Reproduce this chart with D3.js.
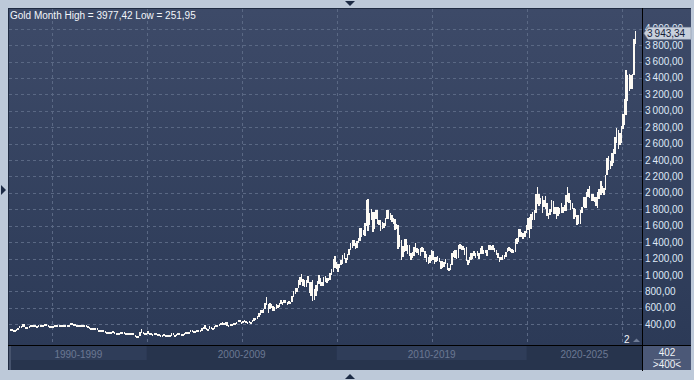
<!DOCTYPE html>
<html><head><meta charset="utf-8">
<script src="https://cdn.jsdelivr.net/npm/d3@7"></script>
<style>html,body{margin:0;padding:0;background:#bdc9d9;}svg{display:block;}</style>
</head><body>
<svg id="c" width="694" height="380"></svg>
<script>
// ---- DATA ----
const titleText = "Gold Month High = 3977,42 Low = 251,95";
const startYear = 1992, startMonth = 4; // May 1992
const highs = [
 341,346,360,344,352,347,338,338,
 333,334,338,360,379,381,409,406,369,372,377,392,
 396,387,393,383,389,394,390,388,399,398,391,383,
 381,380,395,396,392,392,390,389,387,390,389,389,
 411,416,405,399,395,391,387,391,388,386,386,375,
 368,353,356,349,350,349,335,331,335,336,314,300,
 306,302,303,315,307,299,299,292,300,302,300,297,
 293,291,294,290,290,266,263,260,300,338,302,292,
 292,313,295,290,284,292,292,280,278,275,272,276,
 273,270,269,267,294,290,271,281,294,294,281,280,
 289,304,303,310,327,330,323,315,328,324,325,350,
 370,388,353,341,373,369,359,377,391,394,400,417,
 430,419,428,428,396,399,409,415,420,432,456,456,
 429,436,446,438,433,442,432,448,477,480,497,541,
 570,573,585,655,730,650,665,652,621,605,651,640,
 656,690,672,697,691,672,683,677,745,800,842,836,
 935,976,1011,948,937,944,988,914,912,937,828,880,
 931,1006,965,920,980,989,960,966,1024,1072,1195,1227,
 1161,1139,1135,1180,1249,1265,1211,1250,1312,1388,1424,1432,
 1388,1412,1447,1575,1577,1553,1632,1913,1921,1756,1803,1764,
 1764,1791,1793,1676,1667,1641,1630,1692,1790,1796,1754,1726,
 1696,1685,1617,1615,1488,1424,1348,1434,1434,1361,1361,1267,
 1280,1345,1392,1331,1315,1332,1345,1323,1287,1255,1218,1239,
 1307,1296,1223,1225,1232,1205,1175,1170,1157,1191,1142,1088,
 1131,1263,1287,1303,1303,1362,1375,1366,1352,1327,1337,1180,
 1220,1264,1262,1295,1271,1296,1272,1331,1358,1306,1299,1307,
 1366,1362,1356,1366,1326,1309,1267,1221,1215,1243,1239,1286,
 1326,1347,1325,1311,1306,1439,1452,1555,1557,1518,1516,1535,
 1611,1689,1704,1747,1765,1789,1984,2075,1992,1933,1966,1908,
 1959,1871,1755,1798,1916,1903,1832,1834,1834,1814,1877,1831,
 1853,1974,2070,1998,1910,1879,1814,1807,1735,1729,1786,1833,
 1949,1944,2009,2048,2081,1983,1987,1949,1953,2009,2052,2146,
 2088,2065,2222,2431,2450,2387,2483,2531,2685,2790,2762,2726,
 2817,2956,3149,3500,3435,3452,3439,3453,3872,3977
];
const lows = [
 333,336,342,336,338,337,332,332,
 327,326,326,336,354,362,374,365,343,355,367,370,
 376,375,377,369,371,376,378,373,383,382,379,375,
 371,372,373,388,380,383,381,377,380,380,382,385,
 387,398,394,388,388,380,379,384,378,378,370,366,
 343,340,346,337,338,335,317,318,318,307,296,283,
 278,291,291,300,289,286,286,273,274,290,289,284,
 284,281,278,277,267,257,253,252,252,288,286,276,
 281,282,276,273,270,270,275,271,270,263,262,268,
 262,255,255,255,262,265,264,264,271,276,272,271,
 277,286,289,297,308,313,302,300,310,312,314,317,
 342,343,323,319,333,341,341,346,371,367,377,398,
 398,391,390,384,371,382,386,385,396,412,427,430,
 411,411,424,419,413,414,416,427,435,459,456,490,
 515,536,538,582,637,542,596,608,560,560,595,605,
 603,645,636,662,651,640,642,648,667,724,775,783,
 834,880,916,866,851,862,902,786,740,681,700,752,
 806,893,866,866,868,913,905,931,937,1003,1035,1075,
 1075,1045,1087,1114,1145,1197,1155,1176,1241,1307,1330,1360,
 1309,1327,1382,1417,1462,1496,1479,1600,1535,1604,1670,1523,
 1562,1687,1627,1613,1527,1550,1564,1591,1685,1692,1672,1635,
 1625,1555,1562,1321,1338,1180,1208,1270,1292,1251,1227,1186,
 1202,1238,1277,1268,1242,1240,1280,1273,1205,1161,1131,1142,
 1167,1191,1142,1170,1170,1162,1077,1085,1098,1135,1052,1046,
 1062,1112,1208,1206,1199,1199,1310,1302,1302,1241,1171,1122,
 1146,1180,1195,1240,1214,1236,1204,1258,1262,1260,1263,1236,
 1302,1307,1303,1310,1282,1245,1211,1160,1180,1182,1196,1221,
 1275,1302,1280,1266,1266,1281,1382,1400,1459,1458,1445,1459,
 1517,1548,1451,1568,1670,1671,1757,1863,1848,1860,1765,1822,
 1802,1717,1677,1722,1766,1750,1750,1688,1721,1746,1758,1753,
 1780,1780,1890,1872,1786,1805,1681,1709,1615,1617,1616,1765,
 1823,1804,1809,1950,1932,1893,1903,1885,1846,1810,1931,1973,
 2002,1984,2039,2228,2277,2286,2319,2364,2472,2604,2536,2583,
 2614,2772,2833,2957,3121,3246,3268,3268,3436,3820
];
const lastValue = "3 943,34";
const yTicks = [400,600,800,1000,1200,1400,1600,1800,2000,2200,2400,2600,2800,3000,3200,3400,3600,3800,4000];
const gridYears = [1995,2000,2005,2010,2015,2020,2025];
const decades = [
  {label:"1990-1999", from:1990, to:2000, light:true},
  {label:"2000-2009", from:2000, to:2010, light:false},
  {label:"2010-2019", from:2010, to:2020, light:true},
  {label:"2020-2025", from:2020, to:2030, light:false}
];
const barCountLabel = "402", zoomLabel = ">400<", paneLabel = "2";

// ---- LAYOUT ----
const svg = d3.select("#c");
const L = 8, T = 8, R = 642, B = 345, AXR = 691, BB = 370;
const fontF = "'Liberation Sans', Arial, sans-serif";

const defs = svg.append("defs");
const g1 = defs.append("linearGradient").attr("id","bg").attr("x1",0).attr("y1",0).attr("x2",0).attr("y2",1);
g1.append("stop").attr("offset","0%").attr("stop-color","#3d4a68");
g1.append("stop").attr("offset","100%").attr("stop-color","#2c3a57");
defs.append("clipPath").attr("id","clip").append("rect").attr("x",L+1).attr("y",T+1).attr("width",R-L-1).attr("height",B-T-1);

// frame
svg.append("rect").attr("width",694).attr("height",380).attr("fill","#bdc9d9");
svg.append("rect").attr("x",L).attr("y",T).attr("width",AXR-L).attr("height",BB-T).attr("fill","#1f2b42");
svg.append("rect").attr("x",L+1).attr("y",T+1).attr("width",R-L-1).attr("height",B-T-1).attr("fill","url(#bg)");
svg.append("rect").attr("x",R+1).attr("y",T+1).attr("width",AXR-R-1).attr("height",B-T-1).attr("fill","url(#bg)");

// scales
const dates = highs.map((_,i)=> new Date(startYear, startMonth + i, 1));
const x = d3.scaleTime().domain([new Date(2000,0,1), new Date(2025,0,1)]).range([146.7, 621.7]);
const y = d3.scaleLinear().domain([0, 4000]).range([357.1, 28.7]);

// grid
const grid = svg.append("g").attr("clip-path","url(#clip)");
grid.selectAll("line.h").data(yTicks).join("line")
  .attr("x1",L+1).attr("x2",R).attr("y1",d=>Math.round(y(d))+0.5).attr("y2",d=>Math.round(y(d))+0.5)
  .attr("stroke","#5a6884").attr("stroke-dasharray","3,3").attr("stroke-width",1);
grid.selectAll("line.v").data(gridYears).join("line")
  .attr("y1",T+1).attr("y2",B).attr("x1",d=>Math.round(x(new Date(d,0,1)))+0.5).attr("x2",d=>Math.round(x(new Date(d,0,1)))+0.5)
  .attr("stroke","#5a6884").attr("stroke-dasharray","3,3").attr("stroke-width",1);

// bars
const bars = svg.append("g").attr("clip-path","url(#clip)");
bars.selectAll("rect").data(highs).join("rect")
  .attr("x",(d,i)=>x(dates[i])-1)
  .attr("width",1.5)
  .attr("y",(d,i)=>Math.round(y(d)))
  .attr("height",(d,i)=>Math.max(2, Math.round(y(lows[i]) - y(d))))
  .attr("fill","#fdfaf4").attr("shape-rendering","crispEdges");

// title
svg.append("text").attr("x",10).attr("y",19).text(titleText)
  .attr("font-family",fontF).attr("font-size",10).attr("fill","#f2f5fa");

// right axis labels
const fmt = v => { const s = d3.format(",.2f")(v); return s.replace(/,/g," ").replace(".",","); };
const ax = svg.append("g");
ax.selectAll("text").data(yTicks).join("text")
  .attr("x",645).attr("y",d=>y(d)+3.5).text(d=>fmt(d).replace(" ","\u2009"))
  .attr("font-family",fontF).attr("font-size",10).attr("fill","#dfe8f6");

// current value tag
const ty = y(3943.34);
svg.append("path").attr("d",`M${R+2},${ty} L${R+6},${ty-6} L${AXR},${ty-6} L${AXR},${ty+6} L${R+6},${ty+6} Z`)
  .attr("fill","#c8d0dc").attr("stroke","#8e99ac").attr("stroke-width",0.6);
svg.append("text").attr("x",R+5).attr("y",ty+3.5).text(lastValue.replace(" ","\u2009"))
  .attr("font-family",fontF).attr("font-size",10).attr("fill","#17223a");

// bottom band
const band = svg.append("g");
band.append("rect").attr("x",L+1).attr("y",B+1).attr("width",R-L-1).attr("height",BB-B-1).attr("fill","#27344d");
decades.forEach(d=>{
  const x0 = Math.max(L+2, x(new Date(d.from,0,1))), x1 = Math.min(R, x(new Date(d.to,0,1)));
  if (d.light) band.append("rect").attr("x",x0).attr("y",B+1).attr("width",x1-x0).attr("height",14).attr("fill","#2f3d59");
  band.append("text").attr("x",(x0+x1)/2).attr("y",B+13).attr("text-anchor","middle").text(d.label)
    .attr("font-family",fontF).attr("font-size",10).attr("fill","#6b7893");
});
band.append("rect").attr("x",L+1).attr("y",B+1).attr("width",2).attr("height",BB-B-1).attr("fill","#46536d");
// right box
svg.append("rect").attr("x",R+1).attr("y",B+1).attr("width",AXR-R-1).attr("height",BB-B-1).attr("fill","#4b5877");
svg.append("text").attr("x",667).attr("y",B+11).attr("text-anchor","middle").text(barCountLabel)
  .attr("font-family",fontF).attr("font-size",10).attr("fill","#f0f3f8");
svg.append("line").attr("x1",654).attr("x2",680).attr("y1",B+14.5).attr("y2",B+14.5).attr("stroke","#8d98ad");
svg.append("text").attr("x",667).attr("y",B+23).attr("text-anchor","middle").text(zoomLabel)
  .attr("font-family",fontF).attr("font-size",10).attr("fill","#f0f3f8");

// separators
svg.append("line").attr("x1",R+0.5).attr("x2",R+0.5).attr("y1",T).attr("y2",BB+1).attr("stroke","#000").attr("stroke-width",1);
svg.append("line").attr("x1",L).attr("x2",AXR).attr("y1",B+0.5).attr("y2",B+0.5).attr("stroke","#000").attr("stroke-width",1);

// pane label
svg.append("text").attr("x",624).attr("y",B-2).text(paneLabel).attr("font-family",fontF).attr("font-size",10).attr("fill","#f4f6fa");
svg.append("path").attr("d",`M633,${B-3} L636.5,${B-6.5} L640,${B-3} Z`).attr("fill","#6f7c96");

// frame triangles
svg.append("path").attr("d","M345,1 L355,1 L350,6 Z").attr("fill","#1d2b45");
svg.append("path").attr("d","M345,379 L355,379 L350,374 Z").attr("fill","#1d2b45");
svg.append("path").attr("d","M1,185 L6,190 L1,195 Z").attr("fill","#1d2b45");
</script>
</body></html>
